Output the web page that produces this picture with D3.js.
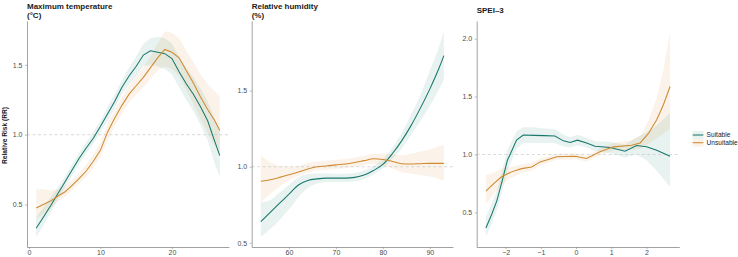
<!DOCTYPE html>
<html><head><meta charset="utf-8">
<script src="https://cdn.jsdelivr.net/npm/d3@7"></script>
<style>body{margin:0;background:#fff}svg{display:block;font-family:"Liberation Sans",Arial,sans-serif}</style>
</head><body><svg id="c" width="738" height="257"></svg>
<script>
// ---------- data ----------
const seriesNames = ["Suitable", "Unsuitable"];
const panelTitles = [["Maximum temperature", "(°C)"], ["Relative humidity", "(%)"], ["SPEI–3"]];

// Panel 1: maximum temperature
const tempX = [1,2,3,4,5,6,7,8,9,10,11,12,13,14,15,16,17,18,19,20,21,22,23,24,25,26,26.7];
const tempSuit = [0.33,0.41,0.49,0.575,0.66,0.745,0.83,0.905,0.975,1.06,1.15,1.24,1.34,1.42,1.49,1.57,1.60,1.59,1.58,1.545,1.45,1.365,1.29,1.20,1.10,0.95,0.85];
const tempSuitLo = [0.27,0.35,0.44,0.535,0.62,0.705,0.79,0.865,0.935,1.02,1.10,1.19,1.29,1.36,1.42,1.49,1.50,1.49,1.47,1.43,1.34,1.25,1.17,1.07,0.96,0.79,0.70];
const tempSuitHi = [0.41,0.48,0.55,0.62,0.70,0.785,0.87,0.945,1.02,1.10,1.20,1.29,1.39,1.48,1.56,1.65,1.69,1.70,1.69,1.65,1.56,1.48,1.41,1.33,1.24,1.11,1.02];
const tempUns = [0.475,0.50,0.525,0.56,0.59,0.635,0.685,0.74,0.81,0.89,1.02,1.12,1.21,1.29,1.35,1.41,1.48,1.55,1.61,1.59,1.55,1.46,1.37,1.27,1.18,1.10,1.03];
const tempUnsLo = [0.40,0.43,0.47,0.52,0.555,0.60,0.65,0.70,0.765,0.84,0.96,1.06,1.15,1.23,1.29,1.34,1.40,1.46,1.49,1.47,1.42,1.32,1.22,1.11,1.01,0.92,0.86];
const tempUnsHi = [0.61,0.61,0.60,0.61,0.635,0.675,0.725,0.785,0.86,0.945,1.08,1.18,1.27,1.35,1.42,1.48,1.56,1.65,1.74,1.73,1.69,1.60,1.52,1.43,1.36,1.31,1.27];

// Panel 2: relative humidity
const humX = [54,56,58,60,62,64,66,68,70,72,74,76,78,80,82,84,86,88,90,92,93];
const humSuit = [0.64,0.70,0.76,0.82,0.88,0.91,0.92,0.925,0.925,0.925,0.93,0.945,0.975,1.015,1.085,1.17,1.27,1.385,1.51,1.65,1.73];
const humSuitLo = [0.54,0.59,0.65,0.72,0.80,0.86,0.89,0.90,0.90,0.90,0.905,0.92,0.95,0.99,1.05,1.12,1.21,1.30,1.40,1.51,1.57];
const humSuitHi = [0.765,0.78,0.83,0.88,0.93,0.95,0.955,0.955,0.953,0.953,0.958,0.975,1.005,1.05,1.125,1.22,1.34,1.47,1.63,1.79,1.89];
const humUns = [0.905,0.915,0.93,0.947,0.965,0.985,1.0,1.005,1.012,1.018,1.028,1.04,1.052,1.048,1.035,1.02,1.018,1.02,1.022,1.022,1.022];
const humUnsLo = [0.765,0.82,0.87,0.91,0.94,0.96,0.975,0.98,0.985,0.99,1.0,1.01,1.02,1.01,0.99,0.965,0.955,0.945,0.935,0.92,0.91];
const humUnsHi = [1.073,1.03,1.005,1.0,1.005,1.025,1.035,1.04,1.045,1.05,1.06,1.072,1.085,1.085,1.08,1.075,1.085,1.10,1.115,1.135,1.145];

// Panel 3: SPEI-3
const speiSuitX = [-2.56,-2.4,-2.25,-2.1,-1.95,-1.8,-1.69,-1.5,-1.2,-0.9,-0.6,-0.36,-0.17,0.04,0.3,0.54,0.97,1.39,1.72,2.0,2.29,2.67];
const speiSuit = [0.366,0.48,0.60,0.77,0.95,1.05,1.124,1.168,1.165,1.163,1.159,1.118,1.104,1.124,1.10,1.072,1.06,1.029,1.078,1.066,1.037,0.985];
const speiSuitLo = [0.29,0.40,0.52,0.68,0.86,0.97,1.05,1.10,1.10,1.10,1.10,1.07,1.06,1.08,1.06,1.03,1.01,0.975,1.0,0.95,0.86,0.72];
const speiSuitHi = [0.46,0.57,0.69,0.86,1.04,1.13,1.20,1.235,1.235,1.225,1.22,1.17,1.15,1.17,1.145,1.115,1.11,1.085,1.15,1.19,1.25,1.36];
const speiUnsX = [-2.56,-2.33,-2.11,-1.83,-1.55,-1.26,-1.02,-0.79,-0.55,-0.03,0.30,0.68,1.06,1.58,1.82,2.05,2.29,2.48,2.67];
const speiUns = [0.684,0.75,0.81,0.85,0.878,0.892,0.936,0.957,0.98,0.985,0.965,1.023,1.066,1.08,1.10,1.18,1.30,1.43,1.587];
const speiUnsLo = [0.575,0.66,0.74,0.80,0.84,0.86,0.905,0.93,0.955,0.96,0.94,0.995,1.035,1.04,1.05,1.09,1.14,1.18,1.226];
const speiUnsHi = [0.82,0.845,0.875,0.895,0.915,0.93,0.965,0.985,1.005,1.01,0.99,1.05,1.10,1.125,1.16,1.29,1.49,1.73,2.064];

const xTicks = [[0,10,20],[60,70,80,90],[-2,-1,0,1,2]];
const yTicks = [[0.5,1.0,1.5],[0.5,1.0,1.5],[0.5,1.0,1.5,2.0]];
const refValue = 1;

// ---------- layout / style ----------
const colors = ["#18786c", "#cf8a32"];
const bandColors = ["#1b7c70", "#d4892c"];
const curves = [d3.curveLinear, d3.curveMonotoneX, d3.curveLinear];
const layout = [
  {x0: 27, x1: 229},
  {x0: 251.7, x1: 453},
  {x0: 476.7, x1: 679.3}
];
const plotTop = 21, plotBottom = 247;

function zip(xs, v, lo, hi) { return xs.map((x, i) => ({x, v: v[i], lo: lo[i], hi: hi[i]})); }
const panels = [
  [zip(tempX, tempSuit, tempSuitLo, tempSuitHi), zip(tempX, tempUns, tempUnsLo, tempUnsHi)],
  [zip(humX, humSuit, humSuitLo, humSuitHi), zip(humX, humUns, humUnsLo, humUnsHi)],
  [zip(speiSuitX, speiSuit, speiSuitLo, speiSuitHi), zip(speiUnsX, speiUns, speiUnsLo, speiUnsHi)]
];

const svg = d3.select("#c");
function expand(ext) { const d = (ext[1] - ext[0]) * 0.05; return [ext[0] - d, ext[1] + d]; }
const fmtMinus = t => (t < 0 ? "\u2212" + Math.abs(t) : String(t));

panels.forEach((series, pi) => {
  const L = layout[pi];
  const all = series.flat();
  const x = d3.scaleLinear().domain(expand(d3.extent(all, d => d.x))).range([L.x0, L.x1]);
  const y = d3.scaleLinear().domain(expand([d3.min(all, d => d.lo), d3.max(all, d => d.hi)])).range([plotBottom, plotTop]);
  const g = svg.append("g");

  // bands
  series.forEach((s, si) => {
    g.append("path").datum(s)
      .attr("d", d3.area().curve(curves[pi]).x(d => x(d.x)).y0(d => y(d.lo)).y1(d => y(d.hi)))
      .attr("fill", bandColors[si]).attr("fill-opacity", 0.1);
  });
  // reference line
  g.append("line").attr("x1", L.x0).attr("x2", L.x1).attr("y1", y(refValue)).attr("y2", y(refValue))
    .attr("stroke", "#c8c8c8").attr("stroke-width", 0.7).attr("stroke-dasharray", "3,2.5");
  // lines
  series.forEach((s, si) => {
    g.append("path").datum(s)
      .attr("d", d3.line().curve(curves[pi]).x(d => x(d.x)).y(d => y(d.v)))
      .attr("fill", "none").attr("stroke", colors[si]).attr("stroke-width", 1.05);
  });

  // axes
  const ya = g.append("g").attr("transform", `translate(${L.x0},0)`)
    .call(d3.axisLeft(y).tickValues(yTicks[pi]).tickFormat(d3.format(".1f")).tickSize(2).tickPadding(2.5).tickSizeOuter(0));
  const xa = g.append("g").attr("transform", `translate(0,${plotBottom})`)
    .call(d3.axisBottom(x).tickValues(xTicks[pi]).tickFormat(fmtMinus).tickSize(2).tickPadding(1.5).tickSizeOuter(0));
  [ya, xa].forEach(a => {
    a.select(".domain").attr("stroke", "#8a8a8a").attr("stroke-width", 0.8);
    a.selectAll(".tick line").attr("stroke", "#8a8a8a").attr("stroke-width", 0.6);
    a.selectAll(".tick text").attr("fill", "#4d4d4d").attr("font-size", "7px").attr("font-family", "Liberation Sans, Arial, sans-serif");
  });

  // title
  const lines = panelTitles[pi];
  const baselines = lines.length === 2 ? [9.3, 17.6] : [13.2];
  lines.forEach((t, li) => {
    svg.append("text").attr("x", L.x0).attr("y", baselines[li]).text(t)
      .attr("font-size", "8px").attr("font-weight", "bold").attr("fill", "#1a1a1a");
  });
});

// y axis title
svg.append("text").attr("transform", "translate(7,135.5) rotate(-90)").attr("text-anchor", "middle")
  .attr("font-size", "6.6px").attr("font-weight", "bold").attr("fill", "#1a1a1a").text("Relative Risk (RR)");

// legend
const lg = svg.append("g");
seriesNames.forEach((n, i) => {
  const cy = 135 + i * 7.7;
  lg.append("rect").attr("x", 692.5).attr("y", cy - 3.85).attr("width", 11).attr("height", 7.7)
    .attr("fill", bandColors[i]).attr("fill-opacity", 0.1);
  lg.append("line").attr("x1", 692.7).attr("x2", 703.3).attr("y1", cy).attr("y2", cy)
    .attr("stroke", colors[i]).attr("stroke-width", 1.05);
  lg.append("text").attr("x", 706.6).attr("y", cy + 2.3).text(n)
    .attr("font-size", "6.6px").attr("fill", "#1a1a1a");
});
</script></body></html>
